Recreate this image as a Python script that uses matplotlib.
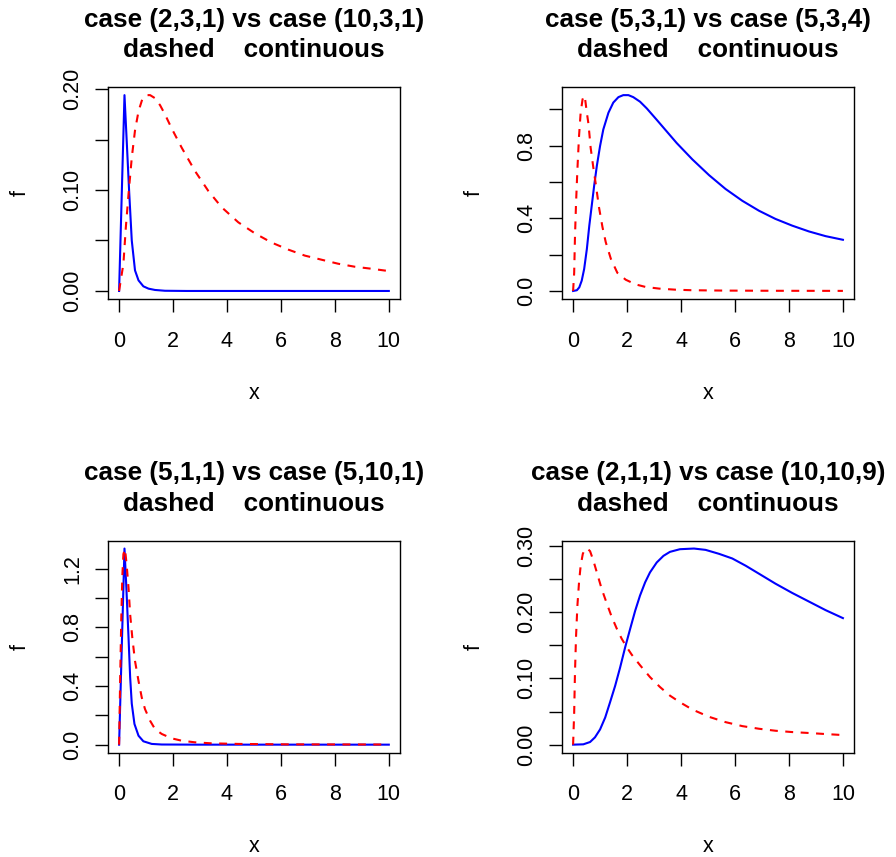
import matplotlib
matplotlib.use("Agg")
import matplotlib.pyplot as plt

plt.rcParams['font.family'] = ['Liberation Sans', 'DejaVu Sans']

# ---------------- data ----------------
titles = [
    ("case (2,3,1) vs case (10,3,1)", "dashed    continuous"),
    ("case (5,3,1) vs case (5,3,4)", "dashed    continuous"),
    ("case (5,1,1) vs case (5,10,1)", "dashed    continuous"),
    ("case (2,1,1) vs case (10,10,9)", "dashed    continuous"),
]

# panel 1
p1_red_x = [0, 0.16, 0.25, 0.35, 0.47, 0.59, 0.72, 0.86, 1.02, 1.15, 1.33, 1.52, 1.70, 1.95,
            2.32, 2.81, 3.31, 3.80, 4.42, 5.04, 5.65, 6.27, 6.89, 7.5, 8.12, 8.74, 9.36, 10]
p1_red_y = [0, 0.027, 0.063, 0.096, 0.132, 0.159, 0.178, 0.190, 0.194, 0.194, 0.191, 0.184, 0.175,
            0.161, 0.142, 0.119, 0.099, 0.083, 0.068, 0.057, 0.048, 0.041, 0.035, 0.031, 0.027,
            0.024, 0.022, 0.0197]
p1_blue_x = [0, 0.2, 0.28, 0.37, 0.47, 0.59, 0.72, 0.90, 1.09, 1.33, 1.7, 2.5, 4, 6, 8, 10]
p1_blue_y = [0, 0.194, 0.15, 0.10, 0.05, 0.0204, 0.0105, 0.0046, 0.0023, 0.001, 0.0002, 0, 0, 0, 0, 0]

# panel 2
p2_red_x = [0, 0.04, 0.07, 0.11, 0.16, 0.22, 0.28, 0.35, 0.40, 0.44, 0.51, 0.57, 0.65, 0.75,
            0.84, 0.96, 1.09, 1.21, 1.40, 1.64, 1.95, 2.32, 2.69, 3.19, 3.80, 4.42, 5.65, 7.5, 10]
p2_red_y = [0, 0.10, 0.30, 0.487, 0.670, 0.853, 0.982, 1.055, 1.076, 1.064, 0.982, 0.92, 0.79,
            0.68, 0.589, 0.461, 0.351, 0.269, 0.177, 0.10, 0.062, 0.036, 0.022, 0.013, 0.007,
            0.004, 0.002, 0.001, 0.0005]
p2_blue_x = [0, 0.14, 0.23, 0.32, 0.41, 0.51, 0.60, 0.69, 0.78, 0.88, 1.0, 1.12, 1.31, 1.49,
             1.68, 1.86, 2.05, 2.23, 2.48, 2.73, 3.10, 3.47, 3.84, 4.42, 5.04, 5.65, 6.27, 6.89,
             7.5, 8.12, 8.74, 9.36, 10]
p2_blue_y = [0, 0.004, 0.020, 0.057, 0.121, 0.231, 0.359, 0.469, 0.579, 0.689, 0.799, 0.890,
             0.982, 1.038, 1.068, 1.079, 1.079, 1.068, 1.043, 1.006, 0.943, 0.879, 0.815, 0.725,
             0.638, 0.562, 0.497, 0.442, 0.397, 0.360, 0.328, 0.302, 0.282]

# panel 3
p3_red_x = [0, 0.04, 0.08, 0.12, 0.16, 0.22, 0.28, 0.35, 0.41, 0.49, 0.59, 0.72, 0.84, 0.96,
            1.15, 1.33, 1.58, 1.95, 2.32, 2.81, 3.43, 4.42, 6.27, 10]
p3_red_y = [0, 0.45, 0.85, 1.15, 1.30, 1.335, 1.229, 1.07, 0.889, 0.73, 0.571, 0.435, 0.322,
            0.243, 0.163, 0.107, 0.073, 0.043, 0.027, 0.016, 0.009, 0.005, 0.002, 0.001]
p3_blue_x = [0, 0.2, 0.27, 0.35, 0.41, 0.47, 0.57, 0.72, 0.90, 1.21, 1.58, 3, 5, 7.5, 10]
p3_blue_y = [0, 1.338, 1.07, 0.73, 0.46, 0.28, 0.141, 0.061, 0.023, 0.005, 0.001, 0, 0, 0, 0]

# panel 4
p4_red_x = [0, 0.04, 0.07, 0.11, 0.16, 0.22, 0.28, 0.36, 0.44, 0.53, 0.63, 0.75, 0.88, 1.06,
            1.25, 1.43, 1.62, 1.80, 1.99, 2.17, 2.48, 2.85, 3.22, 3.59, 3.96, 4.42, 5.04, 5.65,
            6.27, 6.89, 7.5, 8.12, 8.74, 9.36, 10]
p4_red_y = [0, 0.048, 0.109, 0.164, 0.210, 0.245, 0.270, 0.288, 0.295, 0.296, 0.292, 0.278,
            0.260, 0.235, 0.213, 0.193, 0.175, 0.160, 0.147, 0.136, 0.120, 0.102, 0.087, 0.074,
            0.064, 0.053, 0.042, 0.034, 0.028, 0.024, 0.021, 0.019, 0.0176, 0.016, 0.0145]
p4_blue_x = [0, 0.38, 0.63, 0.81, 1.0, 1.19, 1.37, 1.56, 1.74, 1.93, 2.11, 2.30, 2.48, 2.67,
             2.85, 3.10, 3.35, 3.59, 3.96, 4.48, 4.91, 5.41, 5.90, 6.40, 6.89, 7.5, 8.12, 8.74,
             9.36, 10]
p4_blue_y = [0, 0.0005, 0.004, 0.011, 0.023, 0.041, 0.064, 0.089, 0.116, 0.147, 0.174, 0.202,
             0.225, 0.245, 0.260, 0.275, 0.285, 0.291, 0.295, 0.296, 0.294, 0.288, 0.281, 0.270,
             0.258, 0.243, 0.229, 0.216, 0.203, 0.191]

x_ticks = [0, 2, 4, 6, 8, 10]
y_ticks = [
    [0, 0.05, 0.10, 0.15, 0.20],
    [0, 0.2, 0.4, 0.6, 0.8, 1.0],
    [0, 0.2, 0.4, 0.6, 0.8, 1.0, 1.2],
    [0, 0.05, 0.10, 0.15, 0.20, 0.25, 0.30],
]
y_labels = [
    ["0.00", "", "0.10", "", "0.20"],
    ["0.0", "", "0.4", "", "0.8", ""],
    ["0.0", "", "0.4", "", "0.8", "", "1.2"],
    ["0.00", "", "0.10", "", "0.20", "", "0.30"],
]

panels = [
    (p1_red_x, p1_red_y, p1_blue_x, p1_blue_y),
    (p2_red_x, p2_red_y, p2_blue_x, p2_blue_y),
    (p3_red_x, p3_red_y, p3_blue_x, p3_blue_y),
    (p4_red_x, p4_red_y, p4_blue_x, p4_blue_y),
]

# ---------------- layout ----------------
W, H = 896, 857
DPI = 100
fig = plt.figure(figsize=(W / DPI, H / DPI), dpi=DPI)
PT = 72.0 / DPI  # points per pixel

boxes_px = [  # left, top, right, bottom (pixels)
    (108.3, 87.3, 399.6, 298.8),
    (562.3, 87.3, 853.7, 298.8),
    (108.3, 540.7, 399.6, 752.5),
    (562.3, 540.7, 853.7, 752.5),
]

tick_fs = 15.5
title_fs = 18.8
lw_box = 1.0

for i, (box, data) in enumerate(zip(boxes_px, panels)):
    l, t, r, b = box
    ax = fig.add_axes([l / W, 1 - b / H, (r - l) / W, (b - t) / H])
    rx, ry, bx, by = data
    ax.plot(bx, by, color='#0000FF', lw=1.5, solid_joinstyle='round')
    ax.plot(rx, ry, color='#FF0000', lw=1.5, dashes=(3.8, 3.6))

    M = max(max(ry), max(by))
    ax.set_xlim(-0.4, 10.4)
    ax.set_ylim(-0.04 * M, 1.04 * M)

    ax.set_xticks(x_ticks)
    ax.set_xticklabels([str(v) for v in x_ticks])
    ax.set_yticks(y_ticks[i])
    ax.set_yticklabels(y_labels[i])

    for s in ax.spines.values():
        s.set_linewidth(lw_box)
        s.set_color('black')
    ax.tick_params(axis='both', direction='out', length=13 * PT, width=lw_box,
                   labelsize=tick_fs, color='black')
    ax.tick_params(axis='x', pad=19 * PT)
    ax.tick_params(axis='y', pad=17 * PT)
    for lbl in ax.get_yticklabels():
        lbl.set_rotation(90)
        lbl.set_rotation_mode('anchor')
        lbl.set_horizontalalignment('center')
        lbl.set_verticalalignment('baseline')

    # titles
    ax.annotate(titles[i][0], xy=(0.5, 1), xycoords='axes fraction',
                xytext=(0, 60.5 * PT), textcoords='offset points',
                ha='center', va='baseline', fontsize=title_fs, fontweight='bold')
    ax.annotate(titles[i][1], xy=(0.5, 1), xycoords='axes fraction',
                xytext=(0, 30 * PT), textcoords='offset points',
                ha='center', va='baseline', fontsize=title_fs, fontweight='bold')
    # axis labels
    ax.annotate('x', xy=(0.5, 0), xycoords='axes fraction',
                xytext=(0, -100 * PT), textcoords='offset points',
                ha='center', va='baseline', fontsize=tick_fs)
    ax.annotate('f', xy=(0, 0.5), xycoords='axes fraction',
                xytext=(-83 * PT, 0), textcoords='offset points',
                ha='center', va='baseline', rotation=90, rotation_mode='anchor',
                fontsize=tick_fs)

fig.savefig('out.png', dpi=DPI)
